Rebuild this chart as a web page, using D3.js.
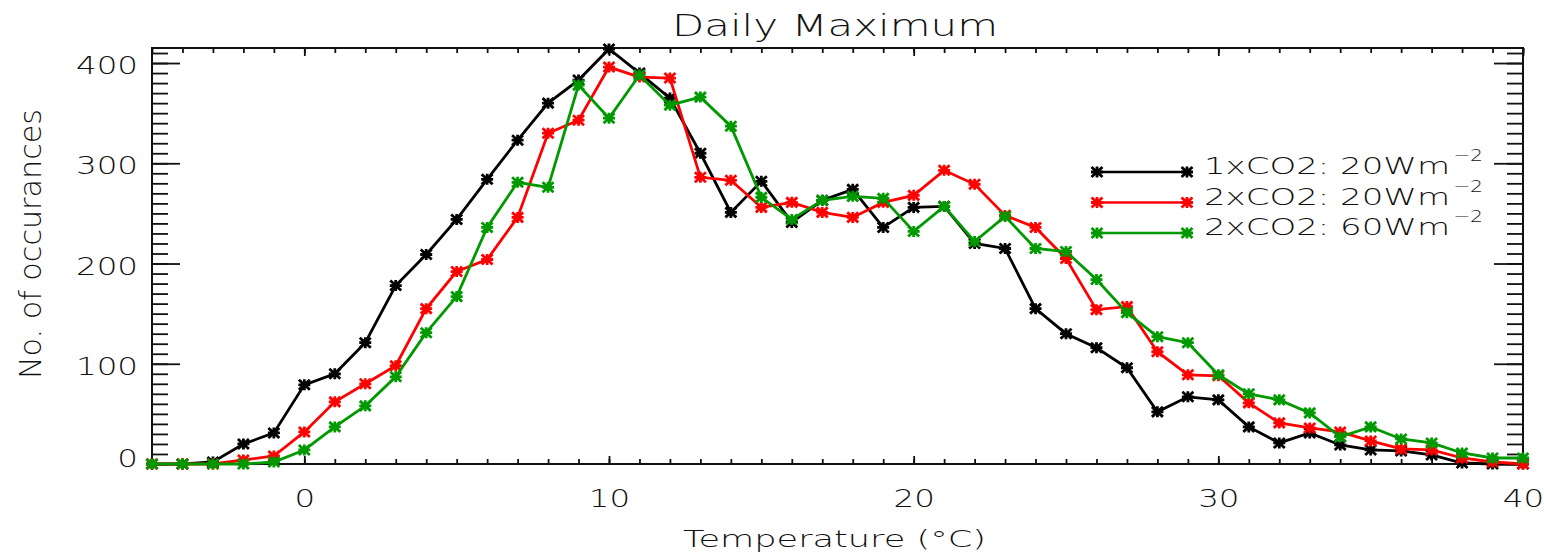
<!DOCTYPE html>
<html>
<head>
  <title>Daily Maximum</title>
  <script src="https://d3js.org/d3.v7.min.js"></script>
  <style>
    body { margin: 0; background: #fff; }
    text { font-family: "DejaVu Sans", sans-serif; font-weight: 200; fill: #111; }
  </style>
</head>
<body>
  <svg width="1544" height="558" id="mainsvg"></svg>
  <script>
    // temperature bins (°C)
    const temps = [-5, -4, -3, -2, -1, 0, 1, 2, 3, 4, 5, 6, 7, 8, 9, 10, 11, 12, 13, 14, 15, 16, 17, 18, 19, 20,
      21, 22, 23, 24, 25, 26, 27, 28, 29, 30, 31, 32, 33, 34, 35, 36, 37, 38, 39, 40];
    // 1xCO2: 20Wm-2
    const co2x1_20 = [0, 0, 2, 20, 31, 79, 90, 121, 178, 209, 244, 284, 323, 360, 383, 414, 390, 365, 310, 251, 282, 241, 263, 274, 236, 256,
      257, 220, 215, 155, 130, 116, 96, 52, 67, 64, 37, 21, 31, 19, 14, 13, 9, 1, 0, 0];
    // 2xCO2: 20Wm-2
    const co2x2_20 = [0, 0, 0, 4, 8, 32, 62, 80, 98, 155, 192, 204, 246, 330, 343, 396, 386, 385, 286, 283, 256, 261, 251, 246, 261, 268,
      293, 279, 248, 236, 205, 154, 157, 112, 89, 88, 61, 41, 36, 32, 23, 15, 14, 6, 2, 0];
    // 2xCO2: 60Wm-2
    const co2x2_60 = [0, 0, 0, 0, 2, 14, 37, 58, 87, 131, 167, 236, 281, 276, 378, 345, 388, 358, 366, 337, 266, 244, 263, 267, 265, 232,
      257, 222, 247, 215, 212, 184, 151, 127, 121, 89, 70, 64, 51, 27, 37, 25, 21, 11, 6, 6];

    const seriesNames = ['1xCO2: 20Wm', '2xCO2: 20Wm', '2xCO2: 60Wm'];
    const seriesColors = ['#000000', '#ff0000', '#009900'];
    const seriesValues = [co2x1_20, co2x2_20, co2x2_60];

    const xMajor = [0, 10, 20, 30, 40];
    const yMajor = [0, 100, 200, 300, 400];

    const svg = d3.select('#mainsvg');
    const K = 1.3; // horizontal stretch of the lettering

    const x = d3.scaleLinear().domain([-5, 40]).range([152, 1523]);
    const y = d3.scaleLinear().domain([0, 415]).range([464, 48]);

    // axes, IDL style: ticks on all four sides pointing inward
    const axisStyle = g => g.call(s => s.select('.domain').remove())
      .selectAll('line').attr('stroke', '#111').attr('stroke-width', 1.8);

    svg.append('g').attr('transform', 'translate(0,464)')
      .call(d3.axisBottom(x).ticks(45).tickSize(-5).tickFormat('')).call(axisStyle);
    svg.append('g').attr('transform', 'translate(0,48)')
      .call(d3.axisTop(x).ticks(45).tickSize(-5).tickFormat('')).call(axisStyle);
    const xb = svg.append('g').attr('transform', 'translate(0,464)')
      .call(d3.axisBottom(x).tickValues(xMajor).tickSize(-8)).call(axisStyle);
    xb.selectAll('text').attr('y', null).attr('dy', null)
      .attr('transform', `translate(0,43) scale(${K},1)`).attr('font-size', 25);
    svg.append('g').attr('transform', 'translate(0,48)')
      .call(d3.axisTop(x).tickValues(xMajor).tickSize(-8).tickFormat('')).call(axisStyle);

    svg.append('g').attr('transform', 'translate(152,0)')
      .call(d3.axisLeft(y).tickValues(d3.range(0, 416, 10)).tickSize(-16).tickFormat('')).call(axisStyle);
    svg.append('g').attr('transform', 'translate(1523,0)')
      .call(d3.axisRight(y).tickValues(d3.range(0, 416, 10)).tickSize(-16).tickFormat('')).call(axisStyle);
    const yl = svg.append('g').attr('transform', 'translate(152,0)')
      .call(d3.axisLeft(y).tickValues(yMajor).tickSize(-28)).call(axisStyle);
    yl.selectAll('text').attr('x', null).attr('dy', null)
      .attr('dominant-baseline', 'central')
      .attr('transform', d => `translate(-14,${d === 0 ? -6 : 2}) scale(${K},1)`).attr('font-size', 25);
    svg.append('g').attr('transform', 'translate(1523,0)')
      .call(d3.axisRight(y).tickValues(yMajor).tickSize(-29).tickFormat('')).call(axisStyle);

    svg.append('rect').attr('x', 152).attr('y', 48).attr('width', 1523 - 152).attr('height', 464 - 48)
      .attr('fill', 'none').attr('stroke', '#111').attr('stroke-width', 2);

    // asterisk marker
    const star = 'M-5.5,-5L5.5,5M-5.5,5L5.5,-5M-6,0L6,0M0,-5.5L0,5.5';

    const line = d3.line().x((d, i) => x(temps[i])).y(d => y(d));

    seriesValues.forEach((vals, k) => {
      const g = svg.append('g');
      g.append('path').datum(vals).attr('d', line)
        .attr('fill', 'none').attr('stroke', seriesColors[k]).attr('stroke-width', 2.8);
      g.selectAll('path.m').data(vals).enter().append('path').attr('class', 'm')
        .attr('d', star)
        .attr('transform', (d, i) => `translate(${x(temps[i])},${y(d)})`)
        .attr('stroke', seriesColors[k]).attr('stroke-width', 2.8).attr('fill', 'none');
    });

    // legend
    seriesNames.forEach((name, k) => {
      const ly = 172 + k * 30.5;
      const g = svg.append('g');
      g.append('line').attr('x1', 1097).attr('x2', 1187).attr('y1', ly).attr('y2', ly)
        .attr('stroke', seriesColors[k]).attr('stroke-width', 2.6);
      [1097, 1187].forEach(px => g.append('path').attr('d', star)
        .attr('transform', `translate(${px},${ly})`)
        .attr('stroke', seriesColors[k]).attr('stroke-width', 2.8).attr('fill', 'none'));
      g.append('text').attr('x', 1204).attr('y', ly + 2).attr('font-size', 23)
        .attr('textLength', 246).attr('lengthAdjust', 'spacingAndGlyphs').text(name);
      g.append('text').attr('x', 1453).attr('y', ly - 11).attr('font-size', 16)
        .attr('textLength', 30).attr('lengthAdjust', 'spacingAndGlyphs').text('\u22122');
    });

    // titles
    svg.append('text').attr('x', 672).attr('y', 36).attr('font-size', 31)
      .attr('textLength', 326).attr('lengthAdjust', 'spacingAndGlyphs').text('Daily Maximum');
    svg.append('text').attr('x', 683).attr('y', 547).attr('font-size', 23)
      .attr('textLength', 303).attr('lengthAdjust', 'spacingAndGlyphs').text('Temperature (\u00b0C)');
    svg.append('text').attr('text-anchor', 'middle').attr('font-size', 23)
      .attr('transform', `translate(41,244) scale(${K},1) rotate(-90)`)
      .attr('textLength', 270).attr('lengthAdjust', 'spacingAndGlyphs').text('No. of occurances');
  </script>
</body>
</html>
